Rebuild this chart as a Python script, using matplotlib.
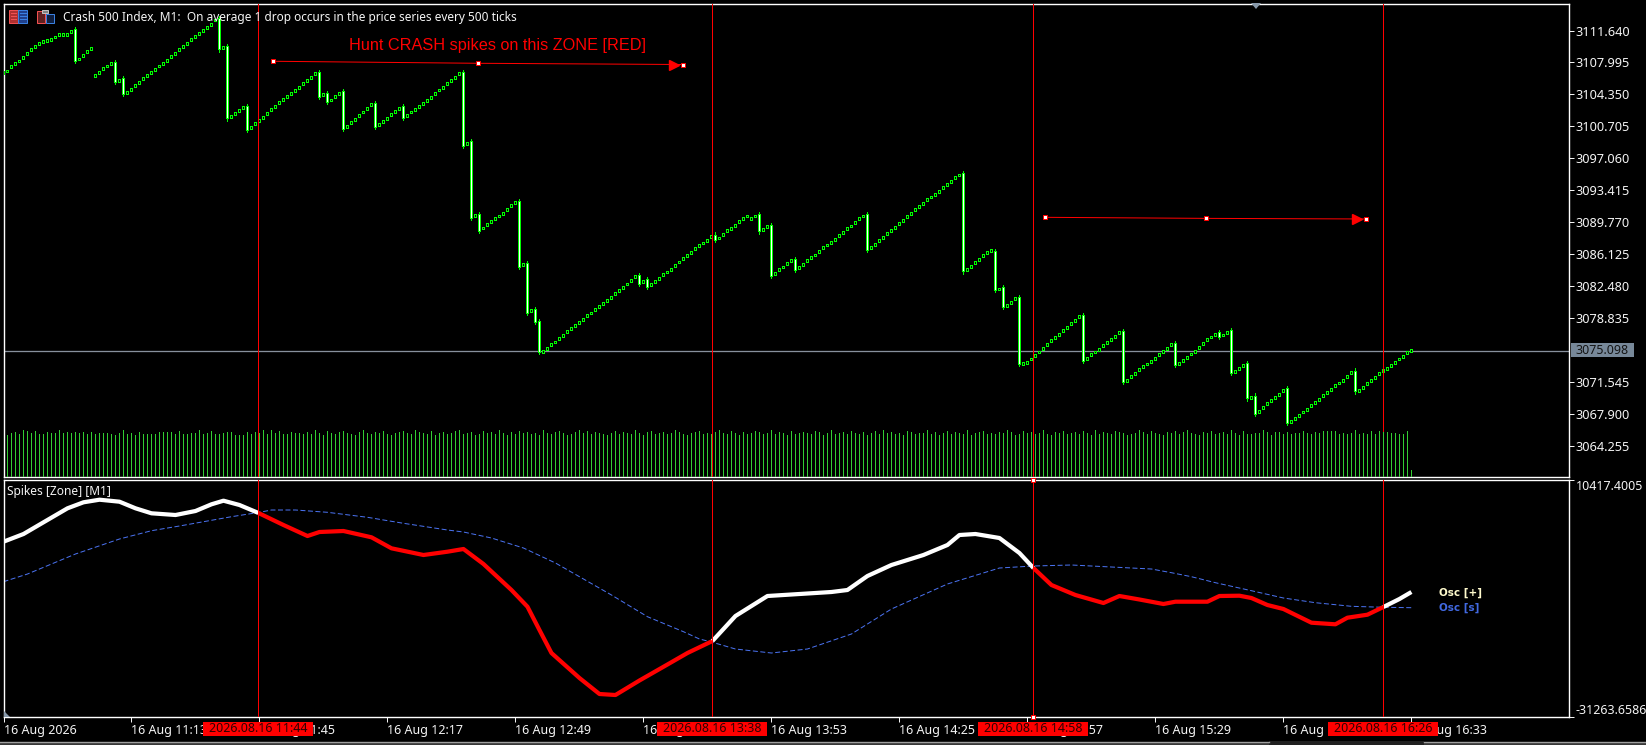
import numpy as np
import matplotlib
matplotlib.use('Agg')
import matplotlib.pyplot as plt
from matplotlib.patches import Rectangle, Polygon

# candle closes, one per M1 bar
closes = [
    3106.83, 3107.02, 3107.48, 3107.82, 3108.16, 3108.54, 3109.03, 3109.42, 3109.83, 3110.18,
    3110.40, 3110.52, 3110.59, 3110.90, 3111.20, 3111.13, 3111.17, 3111.55, 3108.20, 3108.39,
    3108.77, 3109.19, 3109.57, 3106.49, 3106.87, 3107.25, 3107.59, 3107.86, 3105.76, 3105.99,
    3104.43, 3104.62, 3104.96, 3105.42, 3105.76, 3106.11, 3106.49, 3106.83, 3107.21, 3107.59,
    3107.93, 3108.27, 3108.65, 3109.07, 3109.42, 3109.80, 3110.18, 3110.56, 3110.94, 3111.32,
    3111.66, 3112.00, 3112.38, 3112.84, 3109.49, 3109.68, 3101.62, 3101.81, 3102.15, 3102.50,
    3102.84, 3100.29, 3100.59, 3101.01, 3101.35, 3101.73, 3102.19, 3102.57, 3102.99, 3103.41,
    3103.75, 3104.09, 3104.43, 3104.81, 3105.19, 3105.57, 3105.91, 3106.29, 3106.71, 3104.09,
    3104.32, 3103.48, 3103.71, 3104.09, 3104.47, 3100.44, 3100.74, 3101.16, 3101.54, 3101.96,
    3102.34, 3102.76, 3103.18, 3100.63, 3100.93, 3101.31, 3101.65, 3102.00, 3102.38, 3102.76,
    3101.65, 3101.96, 3102.34, 3102.68, 3102.99, 3103.29, 3103.67, 3104.05, 3104.47, 3104.85,
    3105.19, 3105.57, 3105.88, 3106.29, 3106.71, 3098.46, 3098.80, 3090.28, 3090.51, 3088.76,
    3089.10, 3089.48, 3089.82, 3090.13, 3090.47, 3090.81, 3091.23, 3091.65, 3091.96, 3084.65,
    3084.88, 3079.40, 3079.63, 3078.41, 3074.98, 3075.06, 3075.38, 3075.75, 3076.09, 3076.47,
    3076.85, 3077.27, 3077.58, 3078.00, 3078.34, 3078.68, 3079.06, 3079.40, 3079.75, 3080.09,
    3080.51, 3080.85, 3081.19, 3081.57, 3081.99, 3082.33, 3082.71, 3083.13, 3083.51, 3082.71,
    3083.02, 3082.41, 3082.60, 3082.94, 3083.32, 3083.74, 3084.08, 3084.42, 3084.80, 3085.22,
    3085.57, 3085.95, 3086.36, 3086.71, 3087.05, 3087.39, 3087.73, 3088.15, 3087.70, 3087.96,
    3088.38, 3088.76, 3089.07, 3089.41, 3089.79, 3090.13, 3090.47, 3090.13, 3090.47, 3088.72,
    3088.88, 3089.22, 3083.63, 3083.93, 3084.31, 3084.65, 3085.00, 3085.34, 3084.35, 3084.54,
    3084.92, 3085.34, 3085.68, 3086.02, 3086.44, 3086.82, 3087.16, 3087.50, 3087.84, 3088.19,
    3088.61, 3088.99, 3089.33, 3089.78, 3090.13, 3090.47, 3086.63, 3086.93, 3087.27, 3087.62,
    3088.07, 3088.49, 3088.87, 3089.21, 3089.63, 3090.01, 3090.36, 3090.81, 3091.23, 3091.61,
    3091.95, 3092.30, 3092.64, 3092.98, 3093.32, 3093.70, 3094.12, 3094.46, 3094.81, 3095.15,
    3084.15, 3084.38, 3084.76, 3085.18, 3085.56, 3085.98, 3086.36, 3086.51, 3081.99, 3082.14,
    3080.12, 3080.31, 3080.65, 3081.00, 3073.62, 3073.62, 3073.77, 3074.15, 3074.57, 3074.95,
    3075.37, 3075.83, 3076.21, 3076.55, 3076.97, 3077.35, 3077.73, 3078.15, 3078.57, 3078.95,
    3073.96, 3074.23, 3074.61, 3074.95, 3075.29, 3075.71, 3076.05, 3076.32, 3076.74, 3077.12,
    3071.56, 3071.75, 3072.17, 3072.52, 3072.90, 3073.24, 3073.58, 3073.92, 3074.26, 3074.61,
    3075.02, 3075.40, 3075.75, 3073.50, 3073.69, 3074.00, 3074.34, 3074.72, 3075.06, 3075.48,
    3075.94, 3076.32, 3076.66, 3077.00, 3076.66, 3076.89, 3077.23, 3072.52, 3072.71, 3073.12,
    3073.46, 3069.66, 3069.78, 3067.91, 3068.14, 3068.63, 3069.05, 3069.43, 3069.81, 3070.15,
    3070.57, 3066.88, 3067.03, 3067.38, 3067.72, 3068.10, 3068.44, 3068.86, 3069.20, 3069.58,
    3069.96, 3070.34, 3070.72, 3071.07, 3071.41, 3071.75, 3072.17, 3072.63, 3070.46, 3070.61,
    3070.95, 3071.33, 3071.75, 3072.09, 3072.44, 3072.82, 3073.12, 3073.46, 3073.80, 3074.15,
    3074.49, 3074.91, 3075.10,
]

# the crash bars, with the open they fell from
spike_bars = [18, 28, 30, 54, 56, 61, 79, 81, 85, 93, 100, 115, 117, 119, 129, 131, 133, 134, 159,
              161, 178, 189, 192, 198, 216, 240, 248, 250, 254, 270, 280, 293, 304, 307, 311, 313,
              321, 338]
spike_opens = [3111.77, 3108.01, 3106.18, 3113.03, 3109.87, 3103.03, 3106.87, 3104.47, 3104.70,
               3103.33, 3103.03, 3106.87, 3098.99, 3090.70, 3092.15, 3085.07, 3079.82, 3078.45,
               3083.70, 3083.25, 3088.34, 3090.66, 3089.41, 3085.53, 3090.66, 3095.34, 3086.44,
               3082.33, 3081.19, 3079.14, 3077.31, 3075.94, 3077.19, 3077.42, 3073.65, 3069.97,
               3070.80, 3072.82]

volumes = [
    128, 125, 131, 134, 128, 140, 137, 131, 137, 128, 128, 134, 131, 131, 140, 131, 134, 131, 134, 131,
    134, 128, 134, 128, 131, 131, 131, 128, 125, 131, 140, 128, 131, 125, 134, 128, 128, 128, 128, 134,
    134, 134, 134, 128, 137, 128, 128, 131, 131, 140, 128, 131, 137, 128, 128, 131, 134, 134, 125, 125,
    125, 134, 128, 134, 131, 140, 128, 140, 131, 137, 128, 128, 134, 131, 131, 128,
    134, 128, 140, 131, 125, 137, 131, 128, 134, 137, 131, 128, 125, 134, 140, 131, 128, 134, 131, 137,
    128, 125, 131, 134, 137, 131, 128, 140, 134, 131, 128, 137, 125, 131, 134, 128, 131, 137, 140, 128,
    131, 134, 125, 128, 137, 131, 134, 128, 140, 131, 125, 134, 128, 137, 131, 134, 128, 131, 125, 140,
    131, 128, 134, 137, 131, 125, 128, 134, 140, 131, 137, 128, 134, 131, 128, 125,
    131, 137, 128, 134, 131, 128, 140, 131, 125, 134, 137, 128, 131, 134, 128, 131, 140, 134, 128, 125,
    131, 134, 137, 128, 131, 128, 134, 140, 131, 128, 137, 131, 125, 134, 128, 131, 137, 134, 128, 131,
    140, 128, 134, 131, 125, 137, 128, 131, 134, 131, 128, 137, 134, 125, 131, 140, 128, 131, 134, 128,
    137, 131, 128, 134, 125, 131, 137, 128, 140, 131, 134, 128, 131, 125, 137, 134, 128, 131, 131, 140,
    128, 134, 125, 131, 137, 128, 134, 131, 128, 140, 125, 131, 134, 137, 128, 131, 128, 134, 131, 140,
    134, 125, 128, 137, 131, 134, 128, 131, 140, 128, 125, 134, 131, 137, 128, 131, 134, 128, 137, 131,
    125, 140, 128, 134, 131, 128, 137, 134, 131, 125, 128, 131, 140, 134, 128, 137, 131, 128, 125, 134,
    131, 137, 128, 134, 140, 131, 128, 125, 134, 131, 137, 128, 131, 134, 128, 140, 131, 125, 137, 128,
    129, 131, 132, 141, 135, 126, 134, 134, 128, 135, 129, 131, 132, 137, 132, 129, 135, 132, 138, 138,
    138, 138, 129, 131, 129, 132, 141, 129, 132, 129, 138, 129, 138, 135, 135, 132, 132, 129, 129, 138,
    21,
]
volume_bars = np.arange(len(closes) - len(volumes), len(closes))

# oscillator, white while above the signal and red while below it
osc_bars = [0, 5, 10, 16, 20, 24, 29, 33, 37, 43, 48, 52, 55, 59, 63.75,
            70, 76, 79, 85, 92, 97, 105, 111, 115, 120, 127, 131, 134, 137, 144, 149, 153, 159, 166, 171, 177.25,
            183, 191, 199, 207, 211, 216, 222, 230, 236, 239, 243, 249, 254, 257.5,
            262, 268, 275, 279, 284, 290, 293, 301, 304, 309, 312, 316, 320, 327, 333, 336, 341, 345,
            349, 352]
osc_values = [-434, 920, 2978, 5440, 6495, 6952, 6601, 5440, 4561, 4262, 4965, 6143, 6777, 6020, 4613,
              2503, 568, 1272, 1448, 340, -1595, -2773, -2193, -1718, -4356, -8929, -11866, -15964, -20009,
              -24405, -27219, -27395, -24845, -22031, -20009, -17898,
              -13501, -9984, -9632, -9280, -8929, -6467, -4532, -2773, -1015, 744, 920, 217, -2422, -5060,
              -8049, -9808, -11215, -9984, -10599, -11391, -10986, -10986, -9984, -9931, -10336, -11567,
              -12270, -14680, -14961, -13800, -13273, -11918,
              -10512, -9280]
signal_bars = [0, 6, 12, 18, 29, 37, 44, 51, 57, 64, 67, 73, 81, 91, 100, 111, 115, 122, 130, 138, 144,
               152, 161, 170, 174, 177, 183, 192, 201, 212, 222, 236, 249, 257.5, 267, 277, 287, 292, 297,
               303, 312, 320, 328, 337, 345, 352]
signal_values = [-7469, -6115, -4356, -2597, 41, 1500, 2327, 3206, 3962, 4736, 5141, 5141, 4736, 3857, 2802,
                 1623, 1272, 217, -1542, -4180, -6590, -9808, -13624, -16262, -17546, -18074, -19305, -20009,
                 -19305, -16667, -12270, -7873, -5060, -4708, -4532, -4884, -5235, -5886, -6590, -7645, -9052,
                 -10336, -11162, -11796, -11971, -12041]

cross_bars = [63.75, 177.25, 257.5, 345]
cross_labels = ['2026.08.16 11:44', '2026.08.16 13:38', '2026.08.16 14:58', '2026.08.16 16:26']

zone_bars = [[67.5, 118.7, 169.8], [260.5, 300.7, 340.7]]
zone_prices = [[3108.13, 3107.90, 3107.76], [3090.32, 3090.20, 3090.13]]

price_ticks = [3111.640, 3107.995, 3104.350, 3100.705, 3097.060, 3093.415, 3089.770, 3086.125,
               3082.480, 3078.835, 3071.545, 3067.900, 3064.255]
bid_price = 3075.098
osc_ticks = [-31263.6586, 10417.4005]
time_ticks = [0, 32, 64, 96, 128, 160, 192, 224, 256, 288, 320, 352]
time_labels = ['16 Aug 2026', '16 Aug 11:13', '16 Aug 11:45', '16 Aug 12:17', '16 Aug 12:49', '16 Aug 13:21',
               '16 Aug 13:53', '16 Aug 14:25', '16 Aug 14:57', '16 Aug 15:29', '16 Aug 16:01', '16 Aug 16:33']

W, H = 1646, 745
PX = 0.72  # one pixel in points at dpi 100
FONT = ['Noto Sans', 'DejaVu Sans']
plt.rcParams['font.family'] = FONT


def pane(top, bottom):
    return [3.5 / W, (H - bottom) / H, (1569 - 3.5) / W, (bottom - top) / H]


fig = plt.figure(figsize=(W / 100, H / 100), dpi=100, facecolor='black')
ax = fig.add_axes(pane(3.5, 477), facecolor='black')
osc = fig.add_axes(pane(480, 717), facecolor='black')
for a in (ax, osc):
    a.set_xlim(0.04, 391.4)
    for s in a.spines.values():
        s.set_color('white')
        s.set_linewidth(PX * 1.4)

# tick volume sits at the bottom of the price pane, no scale of its own
vol = ax.twinx()
vol.set_ylim(0, 1420)
vol.axis('off')
vol.vlines(volume_bars, 0, volumes, color='#32cd32', lw=PX, antialiased=False)

ax.set_ylim(3064.255 - 31.3 * 0.11413, 3064.255 + 442.2 * 0.11413)
ax.axhline(bid_price, color='#87909c', lw=PX * 1.3, zorder=1)

bars = np.arange(len(closes))
closes_arr = np.array(closes)
tops = closes_arr + 0.17
bottoms = closes_arr - 0.17
faces = ['black'] * len(closes)
for b, o in zip(spike_bars, spike_opens):
    tops[b] = o
    bottoms[b] = closes[b]
    faces[b] = 'white'
ax.vlines(spike_bars, bottoms[spike_bars] - 0.25, tops[spike_bars] + 0.25, color='#00ff00', lw=PX,
          antialiased=False, zorder=2)
ax.bar(bars, tops - bottoms, bottom=bottoms, width=0.5, color=faces, edgecolor='#00ff00', linewidth=PX,
       antialiased=False, zorder=3)

for b, p in zip(zone_bars, zone_prices):
    ax.plot(b, p, color='red', lw=PX, zorder=4)
    ax.plot(b[-1] - 2.2, p[-1], marker='>', ms=7, color='red', zorder=4)
    ax.plot(b, p, ls='none', marker='s', ms=3.4, mfc='white', mec='red', mew=PX, zorder=5)
ax.text(123.5, 3109.95, 'Hunt CRASH spikes on this ZONE [RED]', color='red', ha='center', va='center',
        family=['Liberation Sans'], fontsize=11.7, zorder=5)

ax.set_xticks([])
ax.yaxis.tick_right()
ax.set_yticks(price_ticks, [f'{t:.3f}' for t in price_ticks])
ax.tick_params(axis='y', colors='#f4f4f4', length=3.4, width=PX, pad=1.5, labelsize=9.2)

# oscillator pane, one stretch of line per colour
osc.set_ylim(osc_ticks[0], osc_ticks[1])
osc.plot(signal_bars, signal_values, color='#4a72f0', lw=PX, dashes=(5, 2.5), zorder=2)
osc_b = np.array(osc_bars)
osc_v = np.array(osc_values)
edges = [0] + cross_bars + [352]
for k in range(len(edges) - 1):
    m = (osc_b >= edges[k]) & (osc_b <= edges[k + 1])
    osc.plot(osc_b[m], osc_v[m], color='white' if k % 2 == 0 else 'red', lw=PX * 4.2, solid_capstyle='butt',
             solid_joinstyle='round', zorder=3)

osc.set_xticks(time_ticks, time_labels, ha='left')
osc.yaxis.tick_right()
osc.set_yticks(osc_ticks, ['-31263.6586', '10417.4005'])
osc.get_yticklabels()[0].set_va('bottom')
osc.get_yticklabels()[1].set_va('top')
osc.tick_params(axis='both', colors='#f4f4f4', length=3.4, width=PX, labelsize=9)
osc.tick_params(axis='y', pad=1.5)
osc.tick_params(axis='x', pad=1.5)

for x in cross_bars:
    ax.axvline(x, color='red', lw=PX, zorder=4)
    osc.axvline(x, color='red', lw=PX, zorder=4)
osc.plot([cross_bars[2]] * 2, osc_ticks[::-1], ls='none', marker='s', ms=3.4, mfc='white', mec='red', mew=PX,
         clip_on=False, zorder=5)

# window chrome and labels go on an overlay in pixel coordinates
top = fig.add_axes([0, 0, 1, 1], facecolor='none')
top.set_xlim(0, W)
top.set_ylim(H, 0)
top.axis('off')

top.text(63, 17, 'Crash 500 Index, M1:  On average 1 drop occurs in the price series every 500 ticks',
         color='#f4f4f4', fontsize=8.55, va='center')
top.text(7, 491, 'Spikes [Zone] [M1]', color='#f4f4f4', fontsize=8.6, va='center')
top.text(1439, 592.5, 'Osc [+]', color='#fffacd', fontsize=7.5, fontweight='bold', family='DejaVu Sans', va='center')
top.text(1439, 607.5, 'Osc [s]', color='#4169e1', fontsize=7.5, fontweight='bold', family='DejaVu Sans', va='center')

for x, lab in zip(cross_bars, cross_labels):
    px = ax.transData.transform((x, price_ticks[0]))[0]
    top.add_patch(Rectangle((px - 55, 722), 110, 14, fc='red', ec='none', zorder=5))
    top.text(px, 729, lab, color='#300000', fontsize=9, ha='center', va='center', zorder=6)

top.add_patch(Rectangle((1571, 343), 63, 14, fc='#778899', ec='none', zorder=5))
top.text(1602.5, 350, f'{bid_price:.3f}', color='#151515', fontsize=9, ha='center', va='center', zorder=6)

# toolbar icons
top.add_patch(Rectangle((9, 9.5), 9, 13, fc='#b03030', ec='#f05050', lw=PX))
top.add_patch(Rectangle((18, 9.5), 9.5, 13, fc='#20408c', ec='#3a80e0', lw=PX))
for y in (13, 16, 19):
    top.plot([11, 16], [y, y], color='#f05050', lw=PX)
    top.plot([20, 26], [y, y], color='#3a80e0', lw=PX)
top.add_patch(Rectangle((37, 10.5), 8.5, 12, fc='#602020', ec='#f05050', lw=PX))
top.add_patch(Rectangle((46.5, 13.5), 8, 9, fc='#102040', ec='#3a80e0', lw=PX))
top.add_patch(Rectangle((42.5, 9.5), 6, 3.5, fc='#808080', ec='#c0c0c0', lw=PX))

top.add_patch(Polygon([(1251, 3), (1261, 3), (1256, 9)], fc='#8899aa', ec='none'))
top.add_patch(Polygon([(4, 711), (4, 717), (10, 717)], fc='#8899aa', ec='none'))

top.add_patch(Rectangle((0, 743), W, 2, fc='#383838', ec='none'))
top.plot([0, 1269], [741.8, 741.8], color='#a0a0a0', lw=PX * 1.4)
top.plot([1424, W], [741.8, 741.8], color='#a0a0a0', lw=PX * 1.4)
top.add_patch(Rectangle((1269, 741), 155, 4, fc='#202020', ec='none'))

fig.savefig('out.png', dpi=100, facecolor='black')
